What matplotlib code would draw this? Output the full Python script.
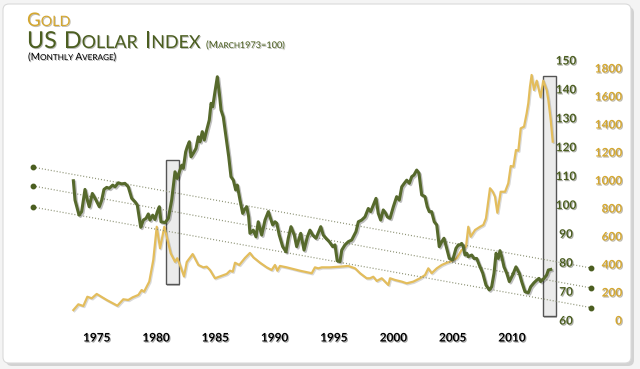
import matplotlib
matplotlib.use("Agg")
import matplotlib.pyplot as plt
import matplotlib.patheffects as pe
from matplotlib.patches import Rectangle, FancyBboxPatch

# ---------------- data ----------------
usd_years = [1973.03, 1973.17, 1973.51, 1973.73, 1974.01, 1974.21, 1974.37, 1974.63, 1974.94, 1975.22,
             1975.42, 1975.61, 1975.84, 1976.06, 1976.35, 1976.54, 1976.82, 1977.11, 1977.38, 1977.66,
             1977.95, 1978.23, 1978.42, 1978.71, 1978.93, 1979.16, 1979.35, 1979.49, 1979.72, 1979.91,
             1980.11, 1980.28, 1980.42, 1980.76, 1981.04, 1981.32, 1981.60, 1981.79, 1982.02, 1982.17,
             1982.30, 1982.50, 1982.64, 1982.81, 1982.95, 1983.14, 1983.37, 1983.57, 1983.71, 1983.90,
             1984.07, 1984.27, 1984.49, 1984.64, 1984.78, 1984.97, 1985.17, 1985.34, 1985.48, 1985.67,
             1985.90, 1986.13, 1986.32, 1986.52, 1986.72, 1986.85, 1987.08, 1987.31, 1987.44, 1987.65,
             1987.81, 1987.92, 1988.20, 1988.43, 1988.62, 1988.91, 1989.19, 1989.47, 1989.61, 1989.84,
             1990.03, 1990.18, 1990.39, 1990.68, 1990.96, 1991.15, 1991.38, 1991.66, 1991.86, 1992.20,
             1992.48, 1992.76, 1992.98, 1993.21, 1993.49, 1993.89, 1994.10, 1994.33, 1994.61, 1994.90,
             1995.09, 1995.28, 1995.51, 1995.66, 1995.93, 1996.21, 1996.50, 1996.86, 1997.06, 1997.34,
             1997.62, 1997.90, 1998.10, 1998.27, 1998.55, 1998.74, 1998.94, 1999.16, 1999.37, 1999.50,
             1999.73, 2000.01, 2000.29, 2000.51, 2000.72, 2000.93, 2001.14, 2001.36, 2001.56, 2001.75,
             2001.98, 2002.17, 2002.40, 2002.68, 2002.87, 2003.04, 2003.24, 2003.46, 2003.67, 2003.88,
             2004.09, 2004.28, 2004.51, 2004.73, 2005.02, 2005.29, 2005.49, 2005.63, 2005.77, 2005.91,
             2006.05, 2006.20, 2006.33, 2006.62, 2006.81, 2007.04, 2007.26, 2007.55, 2007.82, 2008.10,
             2008.30, 2008.50, 2008.67, 2008.86, 2009.00, 2009.15, 2009.34, 2009.57, 2009.79, 2010.07,
             2010.35, 2010.63, 2010.83, 2011.11, 2011.39, 2011.59, 2011.87, 2012.10, 2012.29, 2012.43,
             2012.71, 2012.94, 2013.08, 2013.28]
usd_index = [108.2, 101.5, 96.3, 97.5, 105.2, 101.5, 99.2, 103.8, 101.5, 99.2,
             101.5, 105.2, 105.9, 105.6, 106.7, 106.1, 107.5, 107.1, 107.3, 106.1,
             102.1, 100.9, 99.8, 92.1, 94.6, 95.2, 96.7, 94.6, 96.3, 94.8,
             97.5, 99.2, 94.0, 93.7, 95.2, 101.5, 111.3, 109.0, 111.9, 113.6,
             112.5, 118.2, 120.0, 121.7, 116.5, 117.7, 119.4, 123.4, 121.7, 125.2,
             122.3, 125.7, 129.2, 135.0, 133.8, 139.0, 144.2, 138.4, 132.7, 130.3,
             123.4, 116.5, 109.6, 108.4, 105.0, 106.7, 101.5, 96.9, 98.1, 99.2,
             95.7, 90.0, 91.1, 88.8, 94.0, 89.4, 94.6, 97.5, 95.7, 92.9,
             94.0, 93.5, 89.4, 85.4, 83.6, 88.3, 92.3, 89.4, 85.4, 90.0,
             84.2, 88.8, 91.1, 89.4, 88.3, 92.3, 89.4, 88.3, 87.1, 85.4,
             86.0, 80.5, 80.2, 84.2, 86.0, 87.1, 87.7, 90.6, 94.0, 94.6,
             95.7, 98.6, 97.5, 99.2, 102.1, 96.9, 94.6, 98.1, 96.9, 95.7,
             95.2, 99.2, 102.7, 101.5, 106.1, 107.3, 108.4, 107.3, 109.6, 110.2,
             111.9, 110.8, 103.3, 102.7, 99.2, 97.5, 97.5, 94.0, 92.9, 85.4,
             87.1, 88.3, 84.8, 81.3, 80.8, 84.8, 86.0, 86.0, 86.5, 85.4,
             82.5, 83.1, 81.9, 82.5, 81.3, 81.3, 79.0, 76.2, 72.1, 70.4,
             71.5, 76.2, 83.1, 81.3, 84.0, 81.9, 78.4, 76.2, 73.3, 75.6,
             78.4, 76.2, 73.3, 69.8, 69.4, 71.5, 72.9, 73.8, 74.4, 73.3,
             74.4, 75.6, 77.3, 77.5]

gold_years = [1973.03, 1973.45, 1973.87, 1974.21, 1974.58, 1975.00, 1975.84, 1976.74, 1977.24, 1977.66,
              1978.03, 1978.51, 1978.79, 1978.99, 1979.43, 1979.77, 1980.06, 1980.34, 1980.70, 1980.90,
              1981.24, 1981.60, 1981.79, 1982.02, 1982.36, 1982.59, 1983.09, 1983.57, 1983.99, 1984.27,
              1984.55, 1984.97, 1985.96, 1986.24, 1986.47, 1986.66, 1987.02, 1987.50, 1987.92, 1988.20,
              1988.77, 1989.33, 1989.75, 1990.03, 1990.23, 1990.45, 1991.02, 1992.14, 1993.13, 1993.40,
              1993.68, 1993.97, 1994.67, 1995.51, 1996.21, 1996.78, 1997.20, 1997.76, 1998.04, 1998.32,
              1998.61, 1999.03, 1999.31, 1999.59, 1999.73, 2000.15, 2000.72, 2001.14, 2001.69, 2002.26,
              2002.68, 2002.96, 2003.24, 2003.67, 2004.09, 2004.51, 2004.79, 2005.35, 2005.77, 2006.14,
              2006.33, 2006.53, 2006.90, 2007.32, 2007.60, 2007.82, 2008.16, 2008.39, 2008.58, 2008.78,
              2009.06, 2009.43, 2009.70, 2009.91, 2010.13, 2010.35, 2010.55, 2010.75, 2011.03, 2011.25,
              2011.39, 2011.53, 2011.67, 2011.87, 2012.10, 2012.43, 2012.65, 2012.94, 2013.08, 2013.28,
              2013.45]
gold_price = [71, 112, 100, 166, 155, 186, 143, 102, 148, 143,
              162, 179, 214, 202, 274, 429, 666, 512, 666, 595,
              476, 416, 441, 393, 311, 414, 471, 393, 376, 381,
              357, 298, 329, 352, 345, 409, 393, 443, 479, 448,
              409, 376, 357, 393, 352, 386, 376, 352, 334, 376,
              369, 376, 376, 381, 386, 369, 334, 298, 298, 309,
              279, 298, 274, 250, 298, 286, 274, 262, 274, 298,
              321, 369, 334, 369, 393, 409, 416, 441, 500, 524,
              666, 595, 643, 666, 679, 726, 941, 916, 881, 766,
              916, 916, 976, 1100, 1095, 1214, 1209, 1369, 1381, 1476,
              1548, 1666, 1750, 1643, 1709, 1591, 1709, 1643, 1571, 1429,
              1274]

year_ticks = [1975, 1980, 1985, 1990, 1995, 2000, 2005, 2010]
usd_ticks = [60, 70, 80, 90, 100, 110, 120, 130, 140, 150]
gold_ticks = [0, 200, 400, 600, 800, 1000, 1200, 1400, 1600, 1800]

# highlighted periods: (start year, end year, low index, high index)
highlight_boxes = [(1980.84, 1981.94, 72.5, 115.4),
                   (2012.60, 2013.70, 61.4, 144.4)]

# dotted trend channel: x end years and (start value, end value) per line
trend_years = [1969.63, 2016.68]
trend_values = [(112.9, 78.0), (106.4, 71.1), (99.1, 64.3)]

# ---------------- styling ----------------
GREEN = "#56692C"
GREEN_TXT = "#4B5E20"
GOLD = "#E3BD5C"
GOLD_TXT = "#D4A72F"
plt.rcParams["font.family"] = ["Lato", "DejaVu Sans"]

W, H = 640, 369
fig = plt.figure(figsize=(W / 100, H / 100), dpi=100)
fig.patch.set_facecolor("#F4F4F4")

# panel with soft shadow (drawn beneath the axes)
shadow = FancyBboxPatch((6, 3), 628, 359, boxstyle="round,pad=0,rounding_size=6",
                        transform=None, facecolor="#D2D2D2", edgecolor="none", zorder=-2)
panel = FancyBboxPatch((3, 6), 628, 359, boxstyle="round,pad=0,rounding_size=6",
                       transform=None, facecolor="white", edgecolor="#DADADA", lw=0.8, zorder=-1)
fig.patches.extend([shadow, panel])

# axes: x pixel 73 -> 1973, 11.86 px per year; y pixel 320 -> 60, 60 -> 150
left_px, right_px, top_px, bot_px = 60, 560, 60, 320
ax2 = fig.add_axes([left_px / W, (H - bot_px) / H, (right_px - left_px) / W, (bot_px - top_px) / H])
ax = fig.add_axes(ax2.get_position(), sharex=ax2)
x0 = 1973 - (73 - left_px) / 11.86
x1 = x0 + (right_px - left_px) / 11.86
ax.set_xlim(x0, x1)
ax.set_ylim(60, 150)
ax2.set_ylim(0, 1857)
for a in (ax, ax2):
    a.patch.set_alpha(0)
    for s in a.spines.values():
        s.set_visible(False)

# highlight boxes (behind lines)
for (xa, xb, ya, yb) in highlight_boxes:
    ax2.add_patch(Rectangle((xa, ya), xb - xa, yb - ya, transform=ax.transData,
                            facecolor="#EBEBEB", edgecolor="#555555", lw=1.0, zorder=1,
                            path_effects=[pe.withSimplePatchShadow(offset=(1, -1.5), alpha=0.35)]))

# trend channel
for (va, vb) in trend_values:
    ax.plot(trend_years, [va, vb], linestyle=(0, (0.8, 1.6)), color="#8C9274", lw=0.9,
            clip_on=False, zorder=1)
    ax.plot(trend_years, [va, vb], linestyle="none", marker="o", ms=3.2, color=GREEN_TXT,
            clip_on=False, zorder=2)

# series
ax2.plot(gold_years, gold_price, color=GOLD, lw=1.6, zorder=3, solid_joinstyle="round",
         path_effects=[pe.SimpleLineShadow(offset=(0.8, -0.8), alpha=0.15), pe.Normal()])
ax.plot(usd_years, usd_index, color=GREEN, lw=2.2, zorder=3, solid_joinstyle="round",
        path_effects=[pe.SimpleLineShadow(offset=(1, -1), alpha=0.25), pe.Normal()])

# ticks
shadow_fx = [pe.withSimplePatchShadow(offset=(0.8, -0.8), alpha=0.35)]
ax.set_xticks(year_ticks)
ax.tick_params(axis="x", length=0, pad=9, labelsize=8.5, labelcolor="black")
ax2.tick_params(axis="x", bottom=False, labelbottom=False)
ax.yaxis.tick_right()
ax.set_yticks(usd_ticks)
ax.tick_params(axis="y", length=0, pad=4.3, labelsize=8.5, labelcolor=GREEN_TXT)
ax2.yaxis.tick_right()
ax2.set_yticks(gold_ticks)
ax2.tick_params(axis="y", length=0, pad=44.6, labelsize=8.5, labelcolor=GOLD_TXT)
for lbl in ax.get_xticklabels():
    lbl.set_fontweight("bold")
    lbl.set_path_effects(shadow_fx)
for lbl in ax.get_yticklabels():
    lbl.set_fontweight("bold")
    lbl.set_ha("center")
    lbl.set_path_effects(shadow_fx)
for lbl in ax2.get_yticklabels():
    lbl.set_fontweight("bold")
    lbl.set_ha("right")
    lbl.set_path_effects(shadow_fx)

# ---------------- small-caps titles ----------------
renderer = fig.canvas.get_renderer()
title_fx = [pe.withSimplePatchShadow(offset=(0.7, -0.7), alpha=0.3)]


def small_caps(x_px, base_px, pieces, color):
    x = x_px
    for txt, size in pieces:
        t = fig.text(x / W, 1 - base_px / H, txt, fontsize=size, color=color,
                     va="baseline", ha="left", path_effects=title_fx)
        if txt == " ":
            x += size * 0.3 * 100 / 72
        else:
            x += t.get_window_extent(renderer).width
    return x


small_caps(27, 26, [("G", 13.5), ("OLD", 10.3)], GOLD_TXT)
small_caps(27, 48, [("US", 16.8), (" ", 16.8), ("D", 16.8), ("OLLAR", 12.9), (" ", 16.8),
                    ("I", 16.8), ("NDEX", 12.9)], GREEN_TXT)
small_caps(206, 48, [("(M", 7.2), ("ARCH", 5.8), ("1973=100)", 6.6)], GREEN_TXT)
small_caps(28, 60, [("(M", 7.2), ("ONTHLY", 5.9), (" ", 5.9), ("A", 7.2), ("VERAGE", 5.9),
                    (")", 7.2)], "black")

fig.savefig("out.png", dpi=100, facecolor=fig.get_facecolor())
